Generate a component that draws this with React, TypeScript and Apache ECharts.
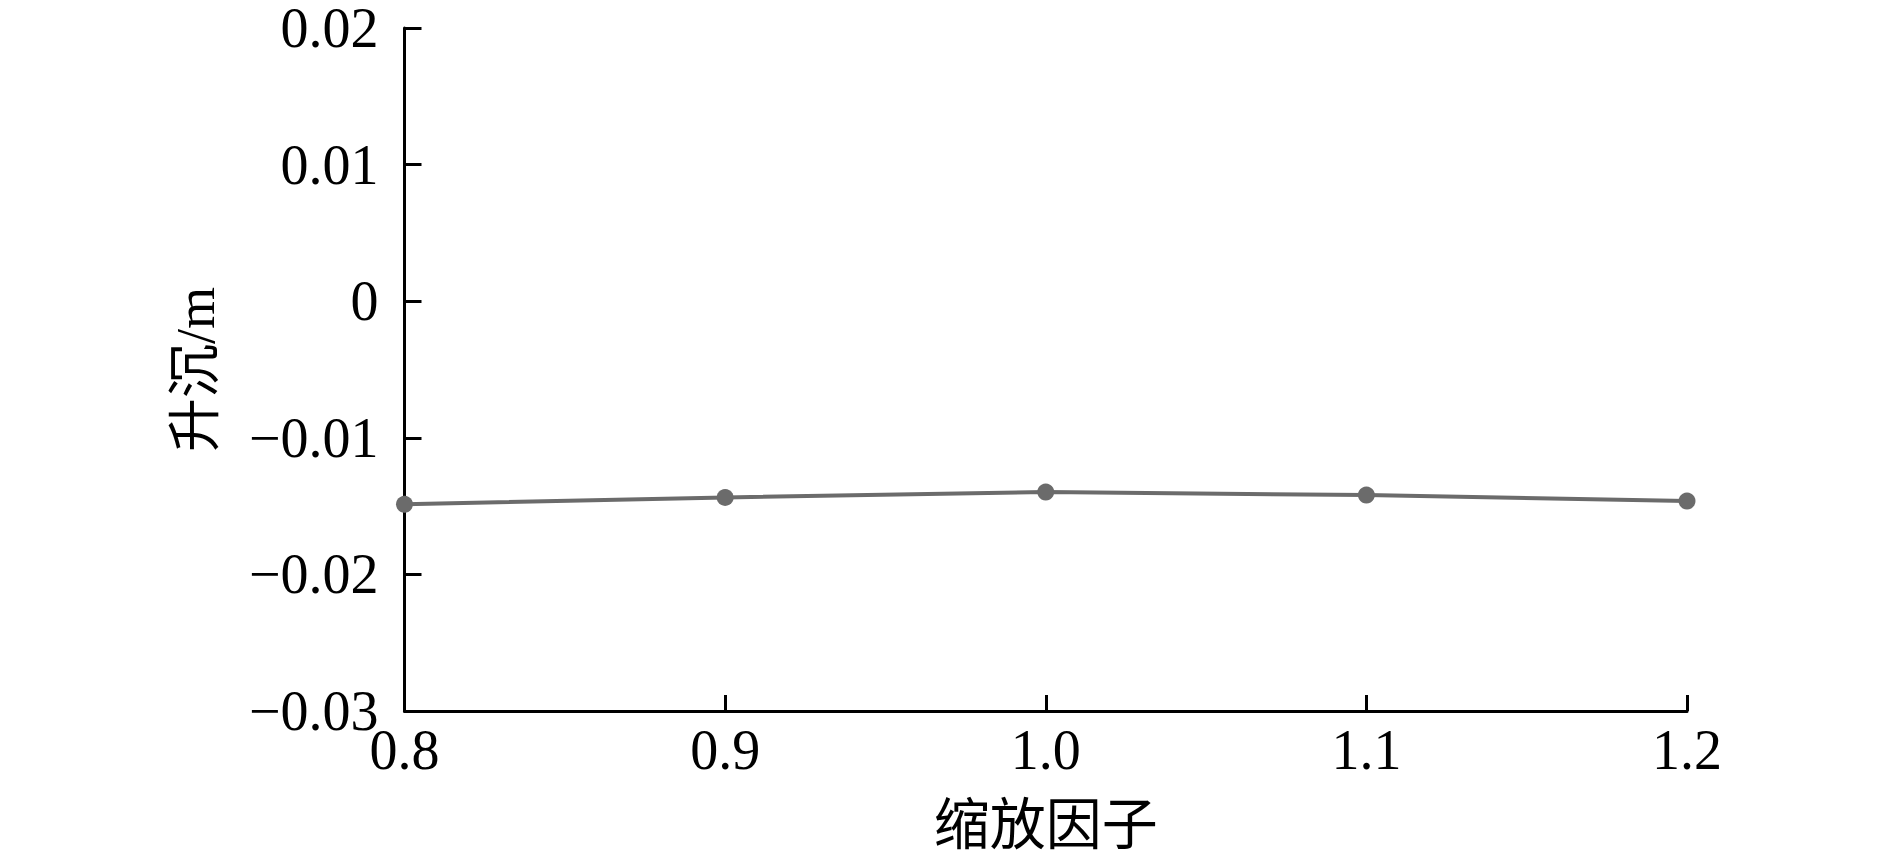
import React, { useEffect, useRef } from "react";
import * as echarts from "echarts";

const xValues = [0.8, 0.9, 1.0, 1.1, 1.2];
const settlement = [-0.01487, -0.01437, -0.01397, -0.01419, -0.01463];
const xAxisName = "缩放因子";
const yAxisName = "升沉/m";

const FONT = "'Liberation Serif', 'Times New Roman', 'Noto Sans CJK SC', serif";

export default function App() {
  const ref = useRef<HTMLDivElement>(null);
  useEffect(() => {
    if (!ref.current) return;
    const chart = echarts.init(ref.current, null, { renderer: "svg" });
    chart.setOption({
      animation: false,
      backgroundColor: "#ffffff",
      grid: { left: 404.5, right: 203, top: 28, bottom: 147, containLabel: false },
      xAxis: {
        type: "value",
        min: 0.8,
        max: 1.2,
        interval: 0.1,
        name: xAxisName,
        nameLocation: "middle",
        nameGap: 86,
        nameTextStyle: { fontFamily: FONT, fontSize: 56, color: "#000" },
        axisLine: { show: true, onZero: false, lineStyle: { color: "#000", width: 3 } },
        axisTick: { show: true, inside: true, length: 16, lineStyle: { color: "#000", width: 3 } },
        axisLabel: {
          fontFamily: FONT,
          fontSize: 56,
          lineHeight: 50,
          color: "#000",
          margin: 14,
          formatter: (v: number) => v.toFixed(1),
        },
        splitLine: { show: false },
      },
      yAxis: {
        type: "value",
        min: -0.03,
        max: 0.02,
        interval: 0.01,
        name: yAxisName,
        nameLocation: "middle",
        nameGap: 182,
        nameRotate: 90,
        nameTextStyle: { fontFamily: FONT, fontSize: 54, color: "#000" },
        axisLine: { show: true, lineStyle: { color: "#000", width: 3 } },
        axisTick: { show: true, inside: true, length: 17, lineStyle: { color: "#000", width: 3 } },
        axisLabel: {
          fontFamily: FONT,
          fontSize: 56,
          lineHeight: 50,
          color: "#000",
          margin: 26,
          formatter: (v: number) => {
            const r = Math.round(v * 100) / 100;
            if (r === 0) return "0";
            return r.toFixed(2).replace("-", "\u2212");
          },
        },
        splitLine: { show: false },
      },
      series: [
        {
          type: "line",
          data: xValues.map((x, i) => [x, settlement[i]]),
          symbol: "circle",
          symbolSize: 17,
          lineStyle: { color: "#6b6b6b", width: 4 },
          itemStyle: { color: "#6b6b6b" },
          clip: false,
        },
      ],
    });
    return () => chart.dispose();
  }, []);
  return (
    <div
      ref={ref}
      style={{ position: "fixed", left: 0, top: 0, width: 1890, height: 858, background: "#fff" }}
    />
  );
}
